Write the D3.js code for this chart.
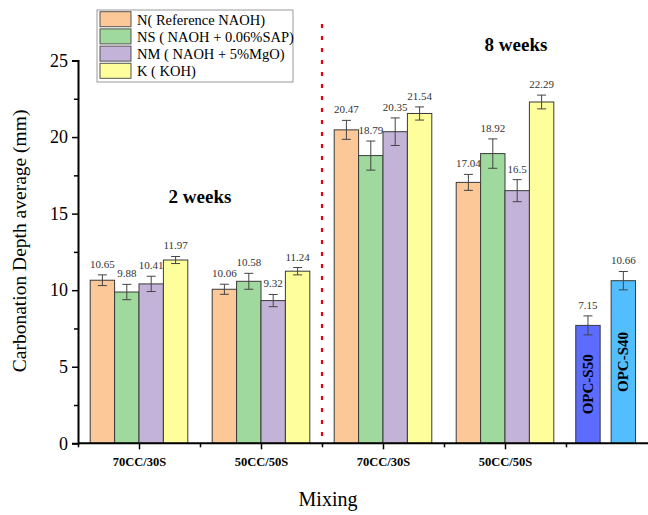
<!DOCTYPE html>
<html><head><meta charset="utf-8">
<script src="https://cdn.jsdelivr.net/npm/d3@7/dist/d3.min.js"></script>
<style>body{margin:0;background:#fff}svg{display:block}text{font-family:"Liberation Serif","Times New Roman",serif}</style>
</head><body><svg id="c" width="648" height="515"></svg>
<script>
const categories = ["70CC/30S", "50CC/50S", "70CC/30S", "50CC/50S"];
const seriesNames = ["N( Reference NAOH)", "NS ( NAOH + 0.06%SAP)", "NM ( NAOH + 5%MgO)", "K ( KOH)"];
const seriesColors = ["#FCC897", "#A0D99E", "#C3B3D8", "#FEFE9C"];
const valuesN  = [10.65, 10.06, 20.47, 17.04];
const valuesNS = [9.88, 10.58, 18.79, 18.92];
const valuesNM = [10.41, 9.32, 20.35, 16.5];
const valuesK  = [11.97, 11.24, 21.54, 22.29];
const errN  = [0.35, 0.33, 0.62, 0.52];
const errNS = [0.5, 0.52, 0.95, 0.96];
const errNM = [0.5, 0.4, 0.9, 0.72];
const errK  = [0.23, 0.24, 0.43, 0.45];
const opcNames = ["OPC-S50", "OPC-S40"];
const opcValues = [7.7, 10.62];
const opcLabels = ["7.15", "10.66"];
const opcErr = [0.62, 0.6];
const opcPos = [4.68, 4.97];
const opcColors = ["#5B6CFE", "#52BEFE"];
const yTicks = [0, 5, 10, 15, 20, 25];
const weekLabels = [{t: "2 weeks", x: 1.5, y: 15.7}, {t: "8 weeks", x: 4.09, y: 25.64}];

const allValues = [valuesN, valuesNS, valuesNM, valuesK];
const allErr = [errN, errNS, errNM, errK];

const svg = d3.select("#c");
const x = d3.scaleLinear().domain([0.5, 5.5]).range([78, 688]);
const y = d3.scaleLinear().domain([0, 25]).range([443.3, 60.5]);
const band = d3.scaleBand().domain(seriesNames).range([-0.4, 0.4]);
const bw = x(band.bandwidth()) - x(0);

// bars
const bars = [];
categories.forEach((c, i) => {
  seriesNames.forEach((s, j) => {
    bars.push({cx: i + 1 + band(s) + band.bandwidth() / 2, v: allValues[j][i], e: allErr[j][i], label: String(allValues[j][i]), color: seriesColors[j]});
  });
});
opcNames.forEach((n, k) => {
  bars.push({cx: opcPos[k], v: opcValues[k], e: opcErr[k], label: opcLabels[k], color: opcColors[k], name: n});
});

const g = svg.append("g");
g.selectAll("rect.bar").data(bars).join("rect")
  .attr("x", d => x(d.cx) - bw / 2).attr("width", bw)
  .attr("y", d => y(d.v)).attr("height", d => y(0) - y(d.v))
  .attr("fill", d => d.color).attr("stroke", "#3a3a3a").attr("stroke-width", 1);

// error bars
const eb = g.selectAll("g.eb").data(bars).join("g").attr("stroke", "#444").attr("stroke-width", 1);
eb.append("line").attr("x1", d => x(d.cx)).attr("x2", d => x(d.cx)).attr("y1", d => y(d.v + d.e)).attr("y2", d => y(d.v - d.e));
eb.append("line").attr("x1", d => x(d.cx) - 4.5).attr("x2", d => x(d.cx) + 4.5).attr("y1", d => y(d.v + d.e)).attr("y2", d => y(d.v + d.e));
eb.append("line").attr("x1", d => x(d.cx) - 4.5).attr("x2", d => x(d.cx) + 4.5).attr("y1", d => y(d.v - d.e)).attr("y2", d => y(d.v - d.e));

// value labels
g.selectAll("text.vl").data(bars).join("text")
  .attr("x", d => x(d.cx)).attr("y", d => y(d.v + d.e) - 7)
  .attr("text-anchor", "middle").attr("font-size", 11).attr("fill", "#333")
  .text(d => d.label);

// OPC names inside bars
g.selectAll("text.opc").data(bars.filter(d => d.name)).join("text")
  .attr("transform", d => `translate(${x(d.cx) + 5},${(y(d.v) + y(0)) / 2}) rotate(-90)`)
  .attr("text-anchor", "middle").attr("font-size", 15).attr("font-weight", "bold").attr("fill", "#000")
  .text(d => d.name);

// divider
svg.append("line").attr("x1", x(2.5)).attr("x2", x(2.5)).attr("y1", 24).attr("y2", y(0))
  .attr("stroke", "#e8000b").attr("stroke-width", 2.2).attr("stroke-dasharray", "4,8");

// axes
const yAxis = svg.append("g").attr("transform", `translate(${x(0.5)},0)`)
  .call(d3.axisLeft(y).tickValues(yTicks).tickSize(6).tickPadding(4));
yAxis.select(".domain").attr("stroke-width", 2);
yAxis.selectAll(".tick line").attr("stroke-width", 1.5);
yAxis.selectAll(".tick text").attr("font-size", 18).attr("font-family", "Liberation Serif").attr("fill", "#000");
svg.append("g").attr("transform", `translate(${x(0.5)},0)`)
  .call(d3.axisLeft(y).tickValues([2.5, 7.5, 12.5, 17.5, 22.5]).tickSize(4).tickFormat(""))
  .call(a => a.select(".domain").remove()).selectAll("line").attr("stroke-width", 1.5);

svg.append("line").attr("x1", x(0.5)).attr("x2", 648).attr("y1", y(0)).attr("y2", y(0)).attr("stroke", "#000").attr("stroke-width", 2);
const xAxis = svg.append("g").attr("transform", `translate(0,${y(0)})`)
  .call(d3.axisBottom(x).tickValues([1, 2, 3, 4]).tickSize(6).tickPadding(8).tickFormat((d, i) => categories[i]));
xAxis.select(".domain").remove();
xAxis.selectAll(".tick line").attr("stroke-width", 1.5);
xAxis.selectAll(".tick text").attr("font-size", 12.5).attr("font-weight", "bold").attr("font-family", "Liberation Serif").attr("fill", "#000");
svg.append("g").attr("transform", `translate(0,${y(0)})`)
  .call(d3.axisBottom(x).tickValues([0.5, 1.5, 2.5, 3.5, 4.5]).tickSize(4).tickFormat(""))
  .call(a => a.select(".domain").remove()).selectAll("line").attr("stroke-width", 1.5);

// axis titles
svg.append("text").attr("x", 328).attr("y", 506).attr("text-anchor", "middle").attr("font-size", 20).text("Mixing");
svg.append("text").attr("transform", `translate(26,${(y(0) + y(25)) / 2 - 11}) rotate(-90)`).attr("text-anchor", "middle").attr("font-size", 19.5).text("Carbonation Depth average (mm)");

// week labels
svg.selectAll("text.wk").data(weekLabels).join("text")
  .attr("x", d => x(d.x)).attr("y", d => y(d.y)).attr("text-anchor", "middle")
  .attr("font-size", 19).attr("font-weight", "bold").text(d => d.t);

// legend
const lg = svg.append("g").attr("transform", "translate(97,10)");
lg.append("rect").attr("width", 196).attr("height", 72).attr("fill", "#fff").attr("stroke", "#999").attr("stroke-width", 1);
const items = lg.selectAll("g.it").data(seriesNames).join("g").attr("transform", (d, i) => `translate(3,${1.7 + i * 17.2})`);
items.append("rect").attr("width", 31).attr("height", 15).attr("fill", (d, i) => seriesColors[i]).attr("stroke", "#555").attr("stroke-width", 1);
items.append("text").attr("x", 37).attr("y", 13).attr("font-size", 14.5).text(d => d);
</script></body></html>
